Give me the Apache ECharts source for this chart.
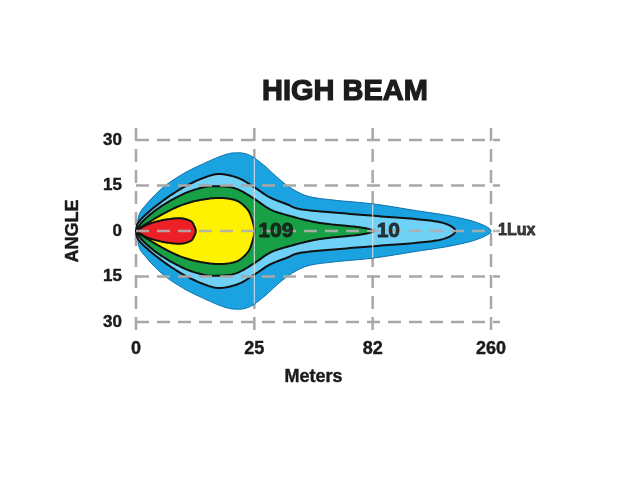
<!DOCTYPE html>
<html>
<head>
<meta charset="utf-8">
<script src="https://cdn.jsdelivr.net/npm/echarts@6/dist/echarts.min.js"></script>
<style>
  html, body { margin: 0; padding: 0; background: #fff; }
  #chart { width: 640px; height: 480px; }
</style>
</head>
<body>
<div id="chart"></div>
<script>
// distance ticks are evenly spaced, labels are the real meters
const distLabels = ['0', '25', '82', '260'];
const distPos = [0, 1, 2, 3];
const angleTicks = [30, 15, 0, -15, -30];

// half width (deg) of each lux zone along the beam, x in tick index units
const outerX  = [0.02, 0.09, 0.23, 0.40, 0.57, 0.74, 0.85, 0.96, 1.08, 1.19, 1.30, 1.45, 1.67, 2.01, 2.37, 2.65, 2.88, 3.0];
const outerH  = [4.4, 8.9, 14.4, 18.9, 22.2, 25, 25.8, 25, 21.7, 17.8, 14.4, 11.5, 10.2, 8.9, 6.7, 5, 2.8, 0];
const lightX  = [0, 0.02, 0.12, 0.29, 0.46, 0.63, 0.74, 0.88, 1.0, 1.13, 1.27, 1.39, 1.67, 2.01, 2.37, 2.6, 2.7];
const lightH  = [0, 2.8, 6.7, 11.7, 15.6, 18.3, 18.7, 17.2, 14.4, 11.1, 8.9, 7.2, 6.1, 5, 3.9, 2.6, 0];
const greenX  = [0, 0.06, 0.2, 0.4, 0.57, 0.71, 0.85, 1.0, 1.13, 1.27, 1.53, 1.81, 1.94, 2.01];
const greenH  = [0, 3.3, 7.8, 12.2, 14.4, 14.7, 13.9, 10.6, 7.2, 5.3, 2.8, 1.6, 0.9, 0];
const yellowX = [0, 0.06, 0.2, 0.37, 0.54, 0.71, 0.85, 0.94, 0.98, 1.0];
const yellowH = [0, 1.7, 5, 8.3, 10.2, 10.9, 10, 7.2, 3.9, 0];
const redX    = [0, 0.1, 0.23, 0.37, 0.46, 0.49, 0.505];
const redH    = [0, 2.2, 3.6, 4.2, 3.3, 1.8, 0];

const luxLabelX = [1, 2, 3];
const luxLabels = ['109', '10', '1Lux'];

const zones = [
  {xs: outerX, hs: outerH, fill: '#1ba3e1', stroke: '#0b6fa8', width: 1, closed: true},
  {xs: lightX, hs: lightH, fill: '#6fd1f5', stroke: '#111', width: 2},
  {xs: greenX, hs: greenH, fill: '#18a047', stroke: '#111', width: 2},
  {xs: yellowX, hs: yellowH, fill: '#fff200', stroke: '#111', width: 2},
  {xs: redX, hs: redH, fill: '#ee2027', stroke: '#111', width: 2}
];

const FONT = '"Liberation Sans", Arial, sans-serif';
const INK = '#1a1a1a';
const GRID_GREY = '#a8a8a8';

// catmull-rom through pixel points
function spline(pts, closed) {
  const n = pts.length, out = [];
  const at = i => closed ? pts[(i + n) % n] : pts[Math.max(0, Math.min(n - 1, i))];
  const segs = closed ? n : n - 1;
  for (let i = 0; i < segs; i++) {
    const p0 = at(i - 1), p1 = at(i), p2 = at(i + 1), p3 = at(i + 2);
    for (let k = 0; k < 12; k++) {
      const t = k / 12, t2 = t * t, t3 = t2 * t;
      out.push([0, 1].map(d => 0.5 * (2 * p1[d] + (-p0[d] + p2[d]) * t +
        (2 * p0[d] - 5 * p1[d] + 4 * p2[d] - p3[d]) * t2 +
        (-p0[d] + 3 * p1[d] - 3 * p2[d] + p3[d]) * t3)));
    }
  }
  if (!closed) out.push(pts[n - 1]);
  return out;
}

function zoneShape(z, api) {
  const up = z.xs.map((x, i) => api.coord([x, z.hs[i]]));
  const down = z.xs.map((x, i) => api.coord([x, -z.hs[i]])).reverse();
  // skip the tip (shared), open outlines end back at the lamp
  const pts = up.concat(down.slice(1));
  if (!z.closed) pts[pts.length - 1] = up[0];
  return spline(pts, !!z.closed);
}

function halfWidthAt(x) {
  for (let i = 0; i < outerX.length - 1; i++) {
    if (x >= outerX[i] && x <= outerX[i + 1]) {
      const t = (x - outerX[i]) / (outerX[i + 1] - outerX[i]);
      return outerH[i] + t * (outerH[i + 1] - outerH[i]);
    }
  }
  return 0;
}

const chart = echarts.init(document.getElementById('chart'));

const option = {
  backgroundColor: '#fff',
  animation: false,
  title: {
    text: 'HIGH BEAM',
    left: 257,
    top: 72,
    textStyle: {
      fontSize: 29, fontWeight: 'bold', fontFamily: FONT, color: '#1d1b1c',
      textBorderColor: '#1d1b1c', textBorderWidth: 1.2
    }
  },
  grid: {left: 136, top: 140, width: 355, height: 182},
  xAxis: {
    type: 'value',
    min: 0,
    max: 3,
    interval: 1,
    name: 'Meters',
    nameLocation: 'middle',
    nameGap: 46,
    nameTextStyle: {fontSize: 18, fontWeight: 'bold', fontFamily: FONT, color: INK, textBorderColor: INK, textBorderWidth: 0.4},
    axisLine: {show: false},
    axisTick: {show: false},
    splitLine: {show: false},
    axisLabel: {
      margin: 18,
      fontSize: 18,
      fontWeight: 'bold',
      fontFamily: FONT,
      color: INK,
      textBorderColor: INK,
      textBorderWidth: 0.4,
      formatter: v => distLabels[distPos.indexOf(v)] || ''
    }
  },
  yAxis: {
    type: 'value',
    min: -30,
    max: 30,
    interval: 15,
    name: 'ANGLE',
    nameLocation: 'middle',
    nameRotate: 90,
    nameGap: 54,
    nameTextStyle: {fontSize: 18, fontWeight: 'bold', fontFamily: FONT, color: INK, textBorderColor: INK, textBorderWidth: 0.4},
    axisLine: {show: false},
    axisTick: {show: false},
    splitLine: {show: false},
    axisLabel: {
      margin: 14,
      fontSize: 17,
      fontWeight: 'bold',
      fontFamily: FONT,
      color: INK,
      textBorderColor: INK,
      textBorderWidth: 0.4,
      formatter: v => String(Math.abs(v))
    }
  },
  series: [
    {
      // vertical dashed grid, under the beam
      type: 'custom',
      z: 1,
      silent: true,
      clip: false,
      data: distPos,
      renderItem: (params, api) => {
        const x = api.value(0);
        const top = api.coord([x, angleTicks[0]]);
        const bot = api.coord([x, angleTicks[angleTicks.length - 1]]);
        return {
          type: 'line',
          shape: {x1: top[0], y1: top[1] - 12, x2: bot[0], y2: bot[1] + 11},
          style: {stroke: GRID_GREY, lineWidth: 2.5, lineDash: [13, 8]}
        };
      }
    },
    {
      type: 'custom',
      z: 2,
      silent: true,
      data: zones.map((z, i) => i),
      renderItem: (params, api) => {
        const z = zones[params.dataIndex];
        return {
          type: 'polygon',
          shape: {points: zoneShape(z, api)},
          style: {fill: z.fill, stroke: z.stroke, lineWidth: z.width, lineJoin: 'round'}
        };
      }
    },
    {
      // thin light verticals across the beam
      type: 'custom',
      z: 3,
      silent: true,
      data: [1, 2],
      renderItem: (params, api) => {
        const x = api.value(0);
        const h = halfWidthAt(x);
        const a = api.coord([x, h]), b = api.coord([x, -h]);
        return {
          type: 'line',
          shape: {x1: a[0], y1: a[1], x2: b[0], y2: b[1]},
          style: {stroke: 'rgba(225,225,225,0.85)', lineWidth: 1.2}
        };
      }
    },
    {
      // horizontal dashed grid, drawn over the beam
      type: 'custom',
      z: 4,
      silent: true,
      clip: false,
      data: angleTicks,
      renderItem: (params, api) => {
        const y = api.value(0);
        const a = api.coord([distPos[0], y]);
        const b = api.coord([distPos[distPos.length - 1], y]);
        return {
          type: 'line',
          shape: {x1: a[0], y1: a[1], x2: b[0] + 9, y2: b[1]},
          style: {
            stroke: y === 0 ? 'rgba(175,175,175,0.9)' : GRID_GREY,
            lineWidth: 2.5,
            lineDash: [13, 8]
          }
        };
      }
    },
    {
      type: 'scatter',
      z: 5,
      silent: true,
      symbolSize: 0,
      data: luxLabelX.map((x, i) => ({
        value: [x, 0],
        name: luxLabels[i],
        label: {fontSize: i === 2 ? 16 : 21, distance: i === 2 ? 7 : 4}
      })),
      label: {
        show: true,
        position: 'right',
        formatter: p => p.name,
        fontWeight: 'bold',
        fontFamily: FONT,
        color: '#111',
        textBorderColor: '#111',
        textBorderWidth: 0.8
      }
    }
  ]
};

chart.setOption(option);
</script>
</body>
</html>
